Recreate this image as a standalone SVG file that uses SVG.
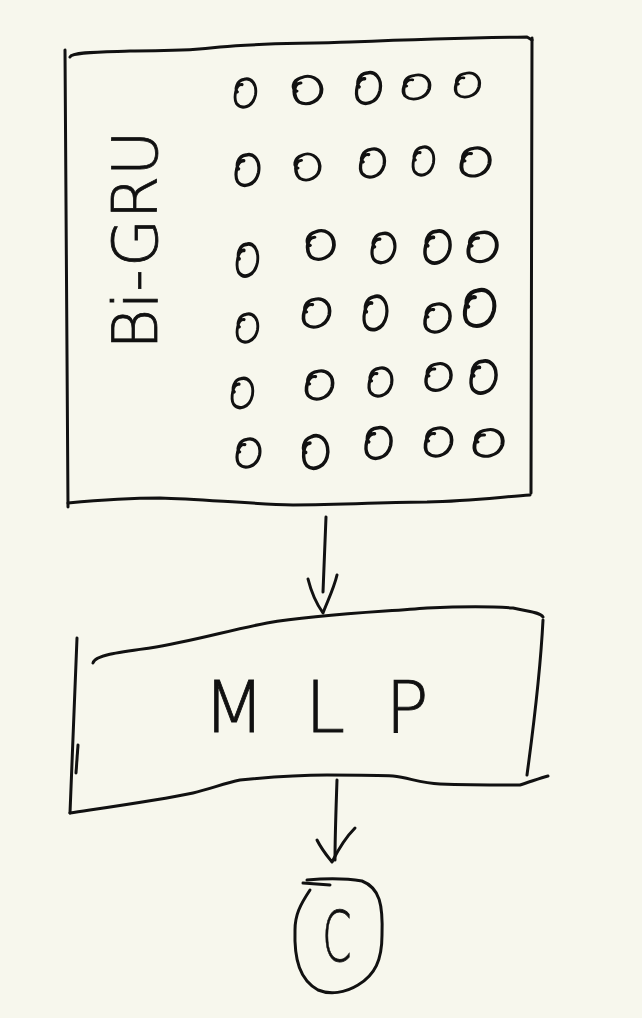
<svg xmlns="http://www.w3.org/2000/svg" xmlns:xlink="http://www.w3.org/1999/xlink" width="642" height="1018" viewBox="0 0 642 1018">
<style>
.s{fill:none;stroke:#111;stroke-width:3;stroke-linecap:round;stroke-linejoin:round}
.t{fill:#111;stroke:#111;stroke-width:0.8;font-family:"DejaVu Sans","Liberation Sans",Arial,sans-serif;font-weight:200}
</style>
<defs>
<path id="o" class="s" d="M -3,-8 C -10,-9 -12,5 -9,10 C -4,16 8,14 11,2 C 13,-9 6,-15 -1,-13 C -9,-12 -11,-3 -8,-1"/>
</defs>
<rect width="642" height="1018" fill="#f7f7ed"/>
<g id="bigru">
<path class="s" d="M 70,57 C 72,52 100,52 130,51 C 160,50 180,52 220,47 C 260,43 300,44 350,42 C 400,40 450,38 527,37 L 532,40"/>
<path class="s" d="M 532,38 C 531,150 530,300 531,493"/>
<path class="s" d="M 65,50 C 66,200 67,350 68,507"/>
<path class="s" d="M 68,503 C 100,500 130,498 160,498 C 200,499 250,504 293,505 C 340,505 390,502 427,502 C 470,501 500,497 530,495"/>
<text class="t" font-size="62" text-anchor="middle" transform="translate(157,240) rotate(-90)">Bi-GRU</text>
<g id="grid">
<use xlink:href="#o" transform="translate(245,93) scale(0.95,1.05)"/>
<use xlink:href="#o" transform="translate(307,90) scale(1.3,1) rotate(-15)"/>
<use xlink:href="#o" transform="translate(368,88) scale(1.1,1.15)"/>
<use xlink:href="#o" transform="translate(416,87) scale(1.2,0.9)"/>
<use xlink:href="#o" transform="translate(467,85) scale(1.1,0.9)"/>
<use xlink:href="#o" transform="translate(247,170) scale(1.05,1.15)"/>
<use xlink:href="#o" transform="translate(307,167) scale(1.15,0.95) rotate(-15)"/>
<use xlink:href="#o" transform="translate(372,163) scale(1.1,1.05)"/>
<use xlink:href="#o" transform="translate(423,161) scale(0.95,1.05)"/>
<use xlink:href="#o" transform="translate(475,162) scale(1.3,1.05)"/>
<use xlink:href="#o" transform="translate(247,260) scale(0.95,1.2)"/>
<use xlink:href="#o" transform="translate(320,245) scale(1.25,1.05) rotate(-10)"/>
<use xlink:href="#o" transform="translate(383,248) scale(1.05,1.1)"/>
<use xlink:href="#o" transform="translate(437,247) scale(1.15,1.2)"/>
<use xlink:href="#o" transform="translate(482,247) scale(1.3,1.1)"/>
<use xlink:href="#o" transform="translate(247,328) scale(0.95,1.05)"/>
<use xlink:href="#o" transform="translate(316,313) scale(1.2,1.05)"/>
<use xlink:href="#o" transform="translate(375,313) scale(1.05,1.25)"/>
<use xlink:href="#o" transform="translate(437,318) scale(1.15,1.05)"/>
<use xlink:href="#o" transform="translate(479,308) scale(1.35,1.35)"/>
<use xlink:href="#o" transform="translate(242,393) scale(0.95,1.1)"/>
<use xlink:href="#o" transform="translate(319,385) scale(1.2,1.05)"/>
<use xlink:href="#o" transform="translate(380,382) scale(1.05,1.05)"/>
<use xlink:href="#o" transform="translate(438,377) scale(1.15,1)"/>
<use xlink:href="#o" transform="translate(483,377) scale(1.15,1.2)"/>
<use xlink:href="#o" transform="translate(248,453) scale(1.05,1.05)"/>
<use xlink:href="#o" transform="translate(315,452) scale(1.15,1.2) rotate(-10)"/>
<use xlink:href="#o" transform="translate(378,443) scale(1.15,1.15)"/>
<use xlink:href="#o" transform="translate(438,442) scale(1.2,1.05)"/>
<use xlink:href="#o" transform="translate(488,443) scale(1.3,1)"/>
</g>
</g>
<g id="mlp">
<path class="s" d="M 93,663 C 95,655 120,652 150,648 C 190,642 230,630 267,623 C 320,614 380,612 427,608 C 470,606 500,607 513,608 C 530,612 540,612 543,617"/>
<path class="s" d="M 543,620 C 540,680 533,730 527,775"/>
<path class="s" d="M 77,638 C 75,700 72,760 70,813"/>
<path class="s" d="M 78,745 L 76,773"/>
<path class="s" d="M 70,813 C 110,807 160,800 193,793 C 210,789 225,783 240,780 C 270,777 300,775 327,775 C 360,775 380,775 393,776 C 410,778 420,783 440,784 C 470,785 500,785 520,785 C 530,782 540,778 548,776"/>
<text class="t" font-size="72" x="203" y="732" letter-spacing="40">MLP</text>
</g>
<g id="c">
<path class="s" d="M 307,880 C 330,878 350,879 362,881 C 380,888 383,905 382,935 C 382,960 375,975 358,985 C 345,993 330,995 318,990 C 300,980 294,960 295,930 C 295,915 300,905 310,890"/>
<path class="s" d="M 303,883 L 330,885"/>
<text class="t" font-size="70" text-anchor="middle" transform="translate(337,961) scale(0.6,1)">C</text>
</g>
<g id="connectors">
<path class="s" d="M 326,517 C 325,545 324,570 323,592"/>
<path class="s" d="M 308,579 C 312,595 318,606 323,613 C 328,600 334,588 337,575"/>
<path class="s" d="M 337,780 C 336,810 335,835 335,860"/>
<path class="s" d="M 317,840 C 322,850 328,857 332,862 C 338,850 345,838 355,828"/>
</g>
</svg>
